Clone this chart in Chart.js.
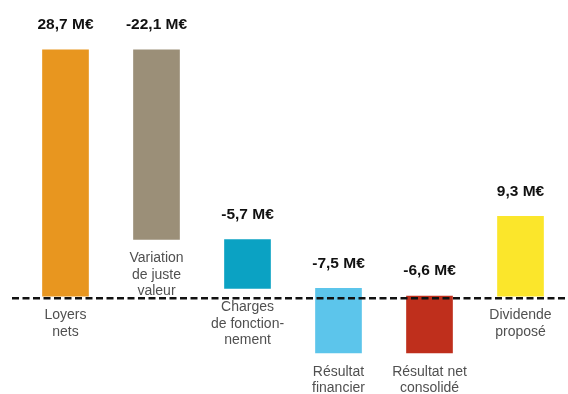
<!DOCTYPE html>
<html lang="fr">
<head>
<meta charset="utf-8">
<script src="https://cdn.jsdelivr.net/npm/chart.js@4/dist/chart.umd.min.js"></script>
<style>
  html, body { margin: 0; padding: 0; background: #fff; }
  #wrap { width: 568px; height: 394px; }
</style>
</head>
<body>
<div id="wrap"><canvas id="bridge" width="568" height="394"></canvas></div>
<script>
// Pont du résultat (M€)
const categories = [
  ["Loyers", "nets"],
  ["Variation", "de juste", "valeur"],
  ["Charges", "de fonction-", "nement"],
  ["Résultat", "financier"],
  ["Résultat net", "consolidé"],
  ["Dividende", "proposé"]
];
const amounts = [28.7, -22.1, -5.7, -7.5, -6.6, 9.3];
// totals restart from zero instead of stacking on the running sum
const isTotal = [false, false, false, false, true, true];
const valueLabels = ["28,7 M€", "-22,1 M€", "-5,7 M€", "-7,5 M€", "-6,6 M€", "9,3 M€"];
const barColors = ["#E8961F", "#9B8F78", "#0BA2C3", "#5CC5EB", "#BF2F1C", "#FBE62B"];

// floating bars: [start, end]
let running = 0;
const ranges = amounts.map((v, i) => {
  const start = isTotal[i] ? 0 : running;
  const end = start + v;
  running = end;
  return [start, end];
});

const FONT = "'Liberation Sans', Arial, sans-serif";

const bridgeLabels = {
  id: "bridgeLabels",
  afterDatasetsDraw(chart) {
    const ctx = chart.ctx;
    const y0 = chart.scales.y.getPixelForValue(0);

    // zero line
    ctx.save();
    ctx.strokeStyle = "#111";
    ctx.lineWidth = 2.5;
    ctx.setLineDash([7, 3.5]);
    ctx.beginPath();
    ctx.moveTo(12, y0 + 2);
    ctx.lineTo(chart.width, y0 + 2);
    ctx.stroke();
    ctx.restore();

    const meta = chart.getDatasetMeta(0);
    meta.data.forEach((bar, i) => {
      const top = Math.min(bar.y, bar.base);
      const bottom = Math.max(bar.y, bar.base);

      ctx.save();
      ctx.textAlign = "center";
      ctx.textBaseline = "middle";
      ctx.fillStyle = "#111";
      ctx.font = "bold 15.5px " + FONT;
      ctx.fillText(valueLabels[i], bar.x, top - 25);

      ctx.fillStyle = "#505050";
      ctx.font = "14px " + FONT;
      categories[i].forEach((line, k) => {
        ctx.fillText(line, bar.x, bottom + 19 + k * 16.5);
      });
      ctx.restore();
    });
  }
};

new Chart(document.getElementById("bridge"), {
  type: "bar",
  data: {
    labels: categories.map(c => c.join(" ")),
    datasets: [{
      data: ranges,
      backgroundColor: barColors,
      borderWidth: 0,
      borderSkipped: false,
      barThickness: 46
    }]
  },
  options: {
    responsive: false,
    animation: false,
    events: [],
    layout: { padding: { left: 20, right: 2, top: 0, bottom: 0 } },
    plugins: {
      legend: { display: false },
      tooltip: { enabled: false }
    },
    scales: {
      x: { display: false, offset: true },
      y: { display: false, min: -11.4, max: 34.5 }
    }
  },
  plugins: [bridgeLabels]
});
</script>
</body>
</html>
